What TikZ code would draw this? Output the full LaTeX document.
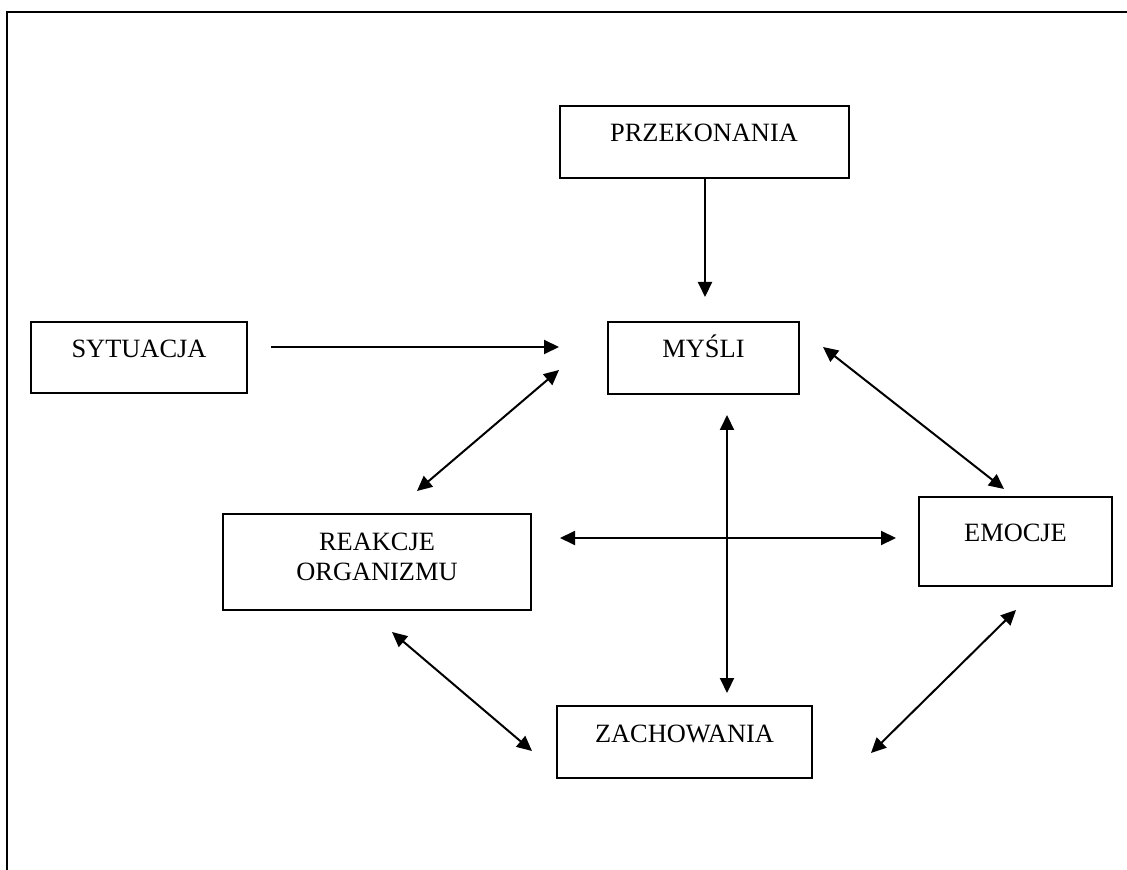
\documentclass[tikz,border=0pt]{standalone}
\usepackage{fontspec}
\setmainfont{Liberation Serif}
\usetikzlibrary{arrows.meta}
\tikzstyle{box}=[draw,rectangle,line width=1pt,inner sep=0pt,text height=9pt,text depth=9pt]

\begin{document}
\begin{tikzpicture}[x=0.5pt,y=-0.5pt,line width=1pt,
    >={Triangle[length=7.5pt,width=7pt]},
    font=\fontsize{13.2pt}{15pt}\selectfont]
  \useasboundingbox (0,0) rectangle (1127,870);
  \draw (7,870) -- (7,12) -- (1127,12);

  \node[box,minimum width=144.5pt,minimum height=36pt] at (704,142) (przek) {PRZEKONANIA};
  \node[box,minimum width=95.5pt,minimum height=36pt] at (703.5,358) (mysli) {MYŚLI};
  \node[box,minimum width=108pt,minimum height=35.5pt] at (139,357.5) (sytu) {SYTUACJA};
  \node[box,align=center,text height=20pt,text depth=2pt,minimum width=154pt,minimum height=48pt]
    at (377,562) (reak) {REAKCJE\\ORGANIZMU};
  \node[box,minimum width=96.5pt,minimum height=44.5pt] at (1015.5,541.5) (emoc) {EMOCJE};
  \node[box,minimum width=127.5pt,minimum height=36pt] at (684.5,742) (zach) {ZACHOWANIA};

  \coordinate (pm) at (705,297);
  \coordinate (sm1) at (271,347); \coordinate (sm2) at (559,347);
  \coordinate (mr1) at (559,370); \coordinate (mr2) at (417,491);
  \coordinate (me1) at (823,347); \coordinate (me2) at (1004,489);
  \coordinate (mz1) at (727,415); \coordinate (mz2) at (727,693);
  \coordinate (re1) at (560,538); \coordinate (re2) at (896,538);
  \coordinate (rz1) at (392,632); \coordinate (rz2) at (532,751);
  \coordinate (ze1) at (871,753); \coordinate (ze2) at (1016,610);

  \draw[->] (przek.south -| pm) -- (pm);
  \draw[->] (sm1) -- (sm2);
  \draw[<->] (mr1) -- (mr2);
  \draw[<->] (me1) -- (me2);
  \draw[<->] (mz1) -- (mz2);
  \draw[<->] (re1) -- (re2);
  \draw[<->] (rz1) -- (rz2);
  \draw[<->] (ze1) -- (ze2);
\end{tikzpicture}
\end{document}
